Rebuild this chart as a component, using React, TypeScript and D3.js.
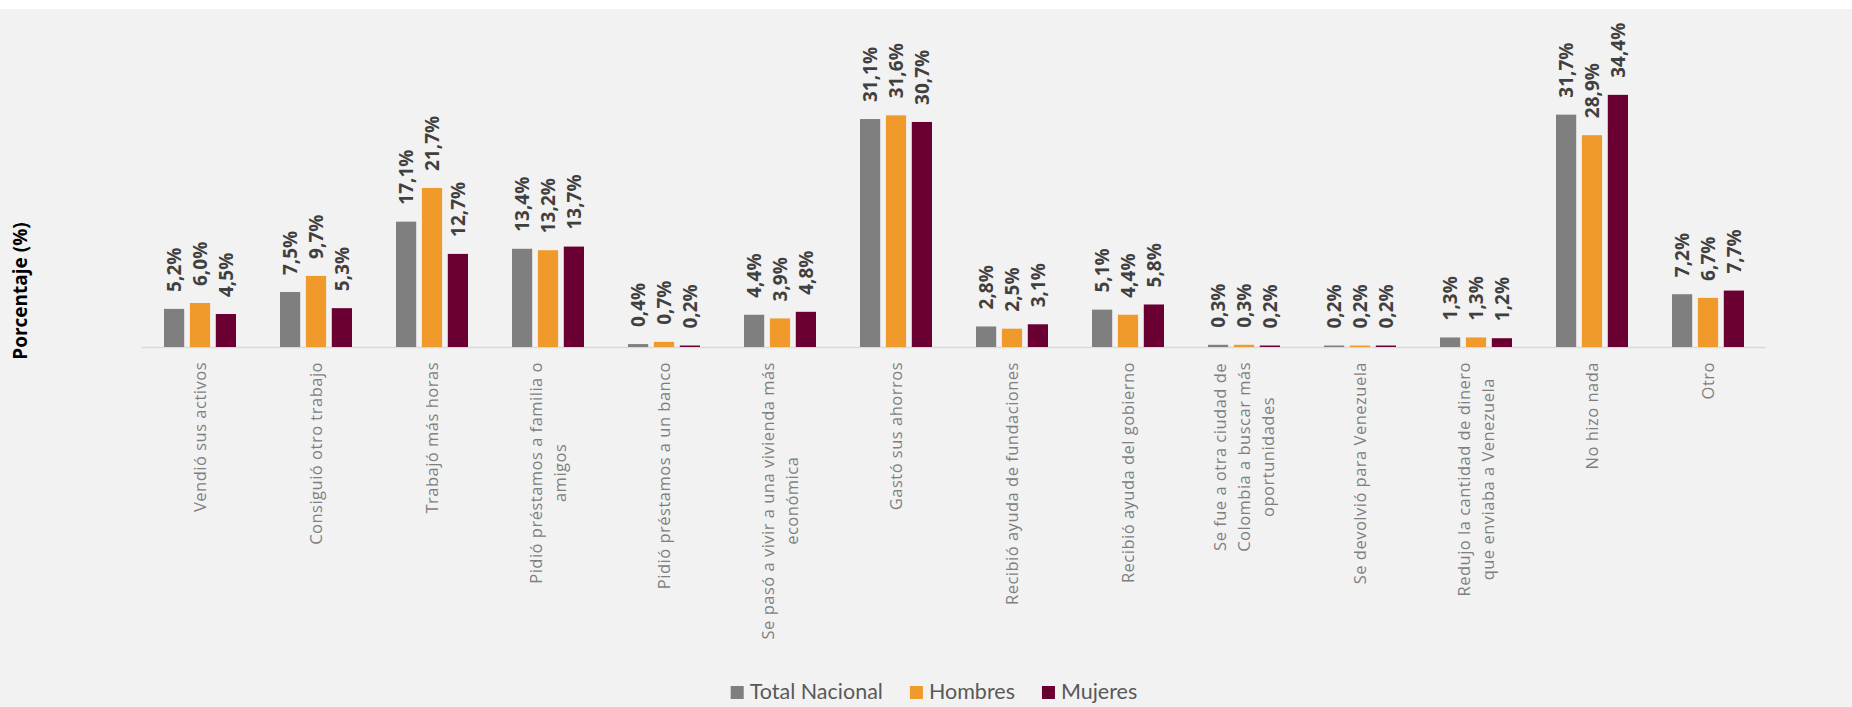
import React, { useEffect, useRef } from 'react';
import * as d3 from 'd3';

const categoryLines: string[][] = [
  ['Vendió sus activos'],
  ['Consiguió otro trabajo'],
  ['Trabajó más horas'],
  ['Pidió préstamos a familia o', 'amigos'],
  ['Pidió préstamos a un banco'],
  ['Se pasó a vivir a una vivienda más', 'económica'],
  ['Gastó sus ahorros'],
  ['Recibió ayuda de fundaciones'],
  ['Recibió ayuda del gobierno'],
  ['Se fue a otra ciudad de', 'Colombia a buscar más', 'oportunidades'],
  ['Se devolvió para Venezuela'],
  ['Redujo la cantidad de dinero', 'que enviaba a Venezuela'],
  ['No hizo nada'],
  ['Otro'],
];

const seriesNames = ['Total Nacional', 'Hombres', 'Mujeres'];
const seriesColors = ['#7f7f7f', '#ef9a2a', '#6a0032'];

const totalNacional = [5.2, 7.5, 17.1, 13.4, 0.4, 4.4, 31.1, 2.8, 5.1, 0.3, 0.2, 1.3, 31.7, 7.2];
const hombres = [6.0, 9.7, 21.7, 13.2, 0.7, 3.9, 31.6, 2.5, 4.4, 0.3, 0.2, 1.3, 28.9, 6.7];
const mujeres = [4.5, 5.3, 12.7, 13.7, 0.2, 4.8, 30.7, 3.1, 5.8, 0.2, 0.2, 1.2, 34.4, 7.7];

const yDomainMax = 40;
const yTitle = 'Porcentaje (%)';

export default function App() {
  const ref = useRef<SVGSVGElement>(null);

  useEffect(() => {
    document.body.style.margin = '0';
    const W = 1852;
    const H = 707;
    const svg = d3.select(ref.current as SVGSVGElement);
    svg.selectAll('*').remove();

    svg.append('rect').attr('x', 0).attr('y', 0).attr('width', W).attr('height', H).attr('fill', '#f2f2f2');
    svg.append('rect').attr('x', 0).attr('y', 0).attr('width', W).attr('height', 9).attr('fill', '#ffffff');

    const x0 = 142;
    const x1 = 1766;
    const baseY = 347;
    const pxPerPct = 7.33;

    const cats = categoryLines.map((_, i) => String(i));
    const xBand = d3.scaleBand<string>().domain(cats).range([x0, x1]).paddingInner(0).paddingOuter(0);
    const xInner = d3.scaleBand<string>().domain(seriesNames).range([-36, 36]).paddingInner(0.22).paddingOuter(0);
    const y = d3.scaleLinear().domain([0, yDomainMax]).range([baseY, baseY - pxPerPct * yDomainMax]);

    const seriesData = [totalNacional, hombres, mujeres];
    const rows: { c: number; s: number; v: number }[] = [];
    seriesData.forEach((arr, s) => arr.forEach((v, c) => rows.push({ c, s, v })));

    const fmt = (v: number) => v.toFixed(1).replace('.', ',') + '%';

    // baseline
    svg.append('line')
      .attr('x1', x0).attr('x2', x1)
      .attr('y1', baseY + 0.5).attr('y2', baseY + 0.5)
      .attr('stroke', '#d9d9d9').attr('stroke-width', 1.5);

    const bx = (d: { c: number; s: number }) => (xBand(String(d.c)) as number) + xBand.bandwidth() / 2 + (xInner(seriesNames[d.s]) as number);

    svg.append('g').selectAll('rect').data(rows).enter().append('rect')
      .attr('x', (d) => bx(d))
      .attr('y', (d) => y(d.v))
      .attr('width', xInner.bandwidth())
      .attr('height', (d) => baseY - y(d.v))
      .attr('fill', (d) => seriesColors[d.s]);

    // value labels
    svg.append('g').selectAll('text').data(rows).enter().append('text')
      .attr('transform', (d) => `translate(${bx(d) + xInner.bandwidth() / 2},${y(d.v) - 17}) rotate(-90)`)
      .attr('dy', '0.36em')
      .attr('text-anchor', 'start')
      .attr('font-family', "'Open Sans', sans-serif")
      .attr('font-weight', 700)
      .attr('font-size', 19)
      .attr('fill', '#404040')
      .text((d) => fmt(d.v));

    // category labels
    const catG = svg.append('g');
    const lh = 24;
    categoryLines.forEach((lines, i) => {
      const cx = (xBand(String(i)) as number) + xBand.bandwidth() / 2;
      const g = catG.append('g').attr('transform', `translate(${cx},362) rotate(-90)`);
      const texts = lines.map((ln, j) =>
        g.append('text')
          .attr('y', (j - (lines.length - 1) / 2) * lh)
          .attr('dy', '0.36em')
          .attr('text-anchor', 'middle')
          .attr('font-family', "'Open Sans', sans-serif")
          .attr('font-size', 16.5)
          .attr('letter-spacing', 0.5)
          .attr('fill', '#7f7f7f')
          .text(ln)
      );
      const widths = texts.map((t) => (t.node() as SVGTextElement).getComputedTextLength());
      const maxW = Math.max(...widths);
      texts.forEach((t) => t.attr('x', -maxW / 2));
    });

    // y title
    svg.append('text')
      .attr('transform', `translate(27,291) rotate(-90)`)
      .attr('text-anchor', 'middle')
      .attr('font-family', "'Open Sans', sans-serif")
      .attr('font-weight', 700)
      .attr('font-size', 19)
      .attr('fill', '#000000')
      .text(yTitle);

    // legend
    const legG = svg.append('g');
    const sq = 13;
    const gapText = 6;
    const gapItem = 27;
    let cursor = 0;
    const items: { x: number; tx: number; w: number }[] = [];
    const legTexts = seriesNames.map((name, i) => {
      const t = legG.append('text')
        .attr('font-family', "Lato, sans-serif")
        .attr('font-size', 21.5)
        .attr('fill', '#595959')
        .attr('y', 699)
        .text(name);
      const w = (t.node() as SVGTextElement).getComputedTextLength();
      items.push({ x: cursor, tx: cursor + sq + gapText, w });
      cursor += sq + gapText + w + gapItem;
      return t;
    });
    const totalW = cursor - gapItem;
    const startX = 934 - totalW / 2;
    seriesNames.forEach((_, i) => {
      legG.append('rect')
        .attr('x', startX + items[i].x)
        .attr('y', 686)
        .attr('width', sq)
        .attr('height', sq)
        .attr('fill', seriesColors[i]);
      legTexts[i].attr('x', startX + items[i].tx);
    });
  }, []);

  return <svg ref={ref} width={1852} height={707} style={{ display: 'block' }} />;
}
